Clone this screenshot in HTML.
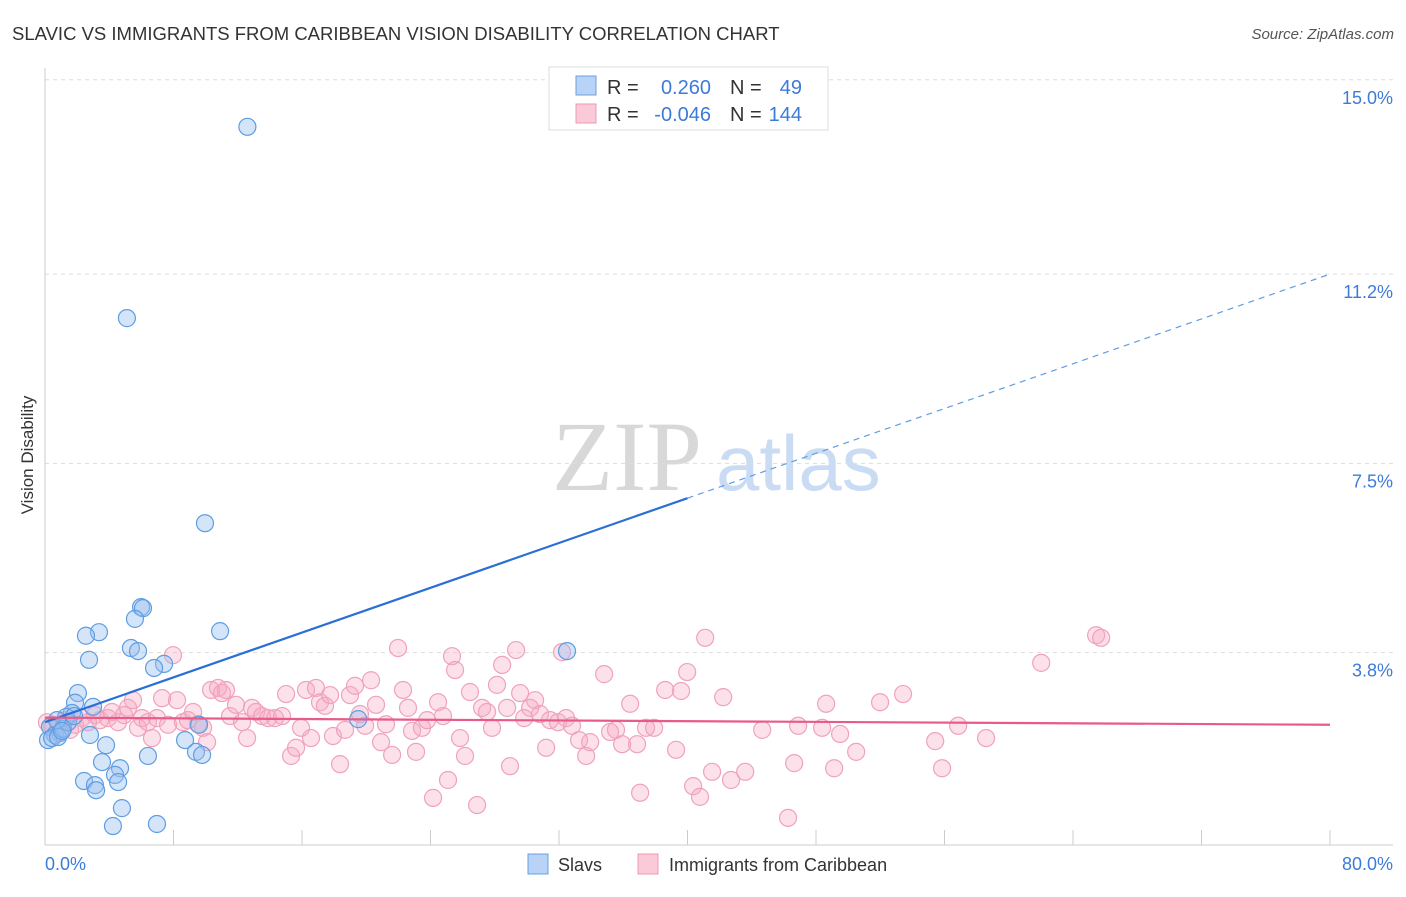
<!DOCTYPE html>
<html><head><meta charset="utf-8"><style>
body{margin:0;background:#fff;width:1406px;height:892px;overflow:hidden;font-family:"Liberation Sans",sans-serif}
</style></head><body>
<svg id="chart" width="1406" height="892" xmlns="http://www.w3.org/2000/svg" font-family="Liberation Sans, sans-serif">
<text x="12" y="40" font-size="18.5" fill="#333">SLAVIC VS IMMIGRANTS FROM CARIBBEAN VISION DISABILITY CORRELATION CHART</text>
<text x="1394" y="39" font-size="15" fill="#555" text-anchor="end" font-style="italic">Source: ZipAtlas.com</text>
<text transform="translate(33,455) rotate(-90)" font-size="17" fill="#333" text-anchor="middle">Vision Disability</text>
<g font-size="100">
<text x="552" y="490" fill="#d8d8d8" font-family="Liberation Serif, serif">ZIP</text>
<text x="716" y="490" fill="#c9dcf3" font-size="78">atlas</text>
</g>
<g id="grid"></g>
<g id="axes"></g>
<g id="pinkpts"></g>
<g id="bluepts"></g>
<g id="trends"></g>
<g>
<rect x="549" y="67" width="279" height="63" fill="#fff" stroke="#ddd"/>
<rect x="576" y="76" width="20" height="19" fill="#b8d3f5" stroke="#6aa0e0"/>
<rect x="576" y="104" width="20" height="19" fill="#fbcad8" stroke="#ee9ab5"/>
<g font-size="20">
<text x="607" y="94" fill="#333">R =</text><text x="711" y="94" fill="#3d7bd9" text-anchor="end">0.260</text>
<text x="730" y="94" fill="#333">N =</text><text x="802" y="94" fill="#3d7bd9" text-anchor="end">49</text>
<text x="607" y="121" fill="#333">R =</text><text x="711" y="121" fill="#3d7bd9" text-anchor="end">-0.046</text>
<text x="730" y="121" fill="#333">N =</text><text x="802" y="121" fill="#3d7bd9" text-anchor="end">144</text>
</g></g>
<g font-size="18" fill="#333">
<rect x="528" y="854" width="20" height="20" fill="#b8d3f5" stroke="#6aa0e0"/>
<text x="558" y="871">Slavs</text>
<rect x="638" y="854" width="20" height="20" fill="#fbcad8" stroke="#ee9ab5"/>
<text x="669" y="871">Immigrants from Caribbean</text>
</g>
</svg>
<script>
const yTicks=[3.8,7.5,11.2,15.0];
const yTickLabels=["3.8%","7.5%","11.2%","15.0%"];
const xTicks=[0,8,16,24,32,40,48,56,64,72,80];
const blueX=[12.6,5.1,9.96,5.98,6.1,10.9,3.36,2.55,5.6,5.35,5.79,2.74,7.41,6.79,32.5,2.05,1.87,2.99,1.68,1.31,0.31,0.62,0.93,2.8,3.8,9.59,8.72,9.4,9.78,6.41,3.55,2.43,3.11,3.18,4.67,4.36,4.55,4.79,4.23,6.97,19.5,0.19,0.44,0.81,1.12,1.43,0.75,1.06,1.81];
const blueY=[14.08,10.34,6.33,4.69,4.67,4.22,4.2,4.13,4.46,3.89,3.83,3.66,3.58,3.5,3.83,3.01,2.82,2.74,2.62,2.54,2.35,2.19,2.23,2.19,1.99,2.39,2.09,1.86,1.8,1.78,1.66,1.29,1.21,1.11,1.54,1.41,1.27,0.76,0.41,0.45,2.5,2.09,2.13,2.15,2.31,2.44,2.48,2.27,2.56];
const pinkX=[0.12,0.44,0.81,1.25,1.56,1.87,2.3,2.68,3.11,3.43,3.92,4.17,4.55,4.92,5.17,5.48,5.79,6.04,6.41,6.66,6.97,7.29,7.66,7.97,8.22,8.59,8.9,9.22,9.53,9.84,10.09,10.34,10.77,11.02,11.27,11.52,11.89,12.27,12.58,12.89,13.14,13.51,13.89,14.32,14.76,15.01,15.32,15.63,15.94,16.25,16.56,16.87,17.12,17.43,17.75,17.93,18.37,18.68,18.99,19.3,19.61,19.93,20.3,20.61,20.92,21.23,21.61,21.98,22.29,22.6,22.85,23.1,23.47,23.79,24.16,24.47,24.78,25.09,25.34,25.53,25.84,26.15,26.46,26.9,27.21,27.52,27.83,28.14,28.46,28.77,28.95,29.33,29.58,29.83,30.2,30.51,30.82,31.2,31.44,31.94,32.19,32.44,32.81,33.25,33.69,33.94,34.81,35.18,35.55,35.93,36.43,36.86,37.05,37.42,37.92,38.61,39.29,39.6,39.98,40.35,40.78,41.1,41.53,42.22,42.71,43.59,44.65,46.26,46.64,46.89,48.38,48.63,49.13,49.5,50.5,51.99,53.42,55.42,55.85,56.85,58.59,62.02,65.44,65.75];
const pinkY=[2.44,2.39,2.33,2.48,2.29,2.39,2.52,2.44,2.58,2.48,2.52,2.64,2.44,2.58,2.72,2.87,2.33,2.52,2.44,2.13,2.52,2.91,2.39,3.75,2.87,2.44,2.48,2.64,2.4,2.33,2.05,3.07,3.11,3.01,3.07,2.56,2.78,2.44,2.13,2.72,2.64,2.56,2.52,2.52,2.56,2.99,1.78,1.94,2.33,3.07,2.13,3.11,2.83,2.76,2.97,2.17,1.62,2.29,2.97,3.15,2.6,2.37,3.26,2.78,2.05,2.4,1.8,3.89,3.07,2.72,2.27,1.86,2.33,2.48,0.96,2.83,2.56,1.31,3.73,3.46,2.13,1.78,3.03,0.82,2.72,2.64,2.33,3.17,3.56,2.72,1.58,3.85,3.01,2.52,2.72,2.87,2.6,1.94,2.48,2.44,3.81,2.52,2.37,2.09,1.78,2.05,3.38,2.25,2.29,2.01,2.8,2.01,1.06,2.33,2.33,3.07,1.9,3.05,3.42,1.19,0.98,4.09,1.47,2.93,1.31,1.47,2.29,0.57,1.64,2.37,2.33,2.8,1.54,2.21,1.86,2.83,2.99,2.07,1.54,2.37,2.13,3.6,4.14,4.09];
const blueTrend=[2.44,0.1095];
const pinkTrend=[2.53,-0.00175];
const NS="http://www.w3.org/2000/svg";
function sx(v){return 45+v*16.0625;}
function sy(v){return 847-v*51.15;}
function mk(tag,attrs,parent){const e=document.createElementNS(NS,tag);for(const k in attrs)e.setAttribute(k,attrs[k]);parent.appendChild(e);return e;}
const grid=document.getElementById('grid'),axes=document.getElementById('axes');
yTicks.forEach((t,i)=>{
 const l=mk('line',{x1:45,x2:1393,y1:sy(t),y2:sy(t),stroke:'#ddd','stroke-dasharray':'4,4'},grid);
 
 
 const tx=mk('text',{x:1393,y:sy(t)+24,'text-anchor':'end','font-size':'18',fill:'#3d7bd9'},grid);
 tx.textContent=yTickLabels[i];
 
 
});
const ya=mk('line',{x1:45,x2:45,y1:68,y2:845,stroke:'#ccc'},axes);


const xa=mk('line',{x1:45,x2:1393,y1:845,y2:845,stroke:'#ccc'},axes);


xTicks.forEach(t=>{
 const l=mk('line',{x1:sx(t),x2:sx(t),y1:830,y2:845,stroke:'#ccc'},axes);
 
 
});
const xl0=mk('text',{x:45,y:870,'font-size':'18',fill:'#3d7bd9'},axes);xl0.textContent='0.0%';


const xl1=mk('text',{x:1393,y:870,'font-size':'18',fill:'#3d7bd9','text-anchor':'end'},axes);xl1.textContent='80.0%';


const pg=document.getElementById('pinkpts');
pinkX.forEach((x,i)=>{
 const c=mk('circle',{cx:sx(x),cy:sy(pinkY[i]),r:8.5,fill:'rgba(246,170,196,0.35)',stroke:'#f0a2bb','stroke-width':1.2},pg);
 
 
});
const bg=document.getElementById('bluepts');
blueX.forEach((x,i)=>{
 const c=mk('circle',{cx:sx(x),cy:sy(blueY[i]),r:8.5,fill:'rgba(150,190,240,0.4)',stroke:'#5f9de2','stroke-width':1.2},bg);
 
 
});
const tg=document.getElementById('trends');
const b1=mk('line',{x1:sx(0),y1:sy(blueTrend[0]),x2:sx(40),y2:sy(blueTrend[0]+blueTrend[1]*40),stroke:'#2a6fd6','stroke-width':2.2},tg);


const b2=mk('line',{x1:sx(40),y1:sy(blueTrend[0]+blueTrend[1]*40),x2:sx(80),y2:sy(blueTrend[0]+blueTrend[1]*80),stroke:'#5f9de2','stroke-width':1.2,'stroke-dasharray':'6,5'},tg);


const p1=mk('line',{x1:sx(0),y1:sy(pinkTrend[0]),x2:sx(80),y2:sy(pinkTrend[0]+pinkTrend[1]*80),stroke:'#e85a8a','stroke-width':2.2},tg);


</script>
</body></html>
